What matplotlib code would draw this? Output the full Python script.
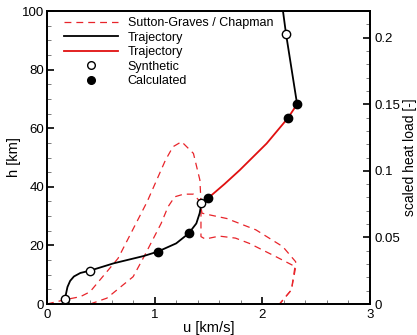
import numpy as np
import matplotlib
matplotlib.use('Agg')
import matplotlib.pyplot as plt
from matplotlib.lines import Line2D
from matplotlib.ticker import MultipleLocator, FuncFormatter

plt.rcParams['font.family'] = ['Liberation Sans', 'DejaVu Sans']
plt.rcParams['font.size'] = 9.5

# trajectory, black lower part
u_low = [0.151, 0.160, 0.167, 0.175, 0.190, 0.215, 0.25, 0.31, 0.40, 0.62, 0.90, 1.03, 1.20,
         1.316, 1.387, 1.418, 1.434, 1.495]
h_low = [0.2, 0.9, 1.6, 3.2, 5.8, 7.9, 9.4, 10.6, 11.4, 13.9, 16.4, 17.9, 20.7,
         24.1, 27.5, 31.0, 34.4, 36.1]
# trajectory, red middle part
u_mid = [1.495, 1.65, 1.79, 2.04, 2.236, 2.323]
h_mid = [36.1, 41.0, 45.7, 54.8, 63.4, 68.2]
# trajectory, black upper part
u_top = [2.323, 2.22, 2.19]
h_top = [68.2, 92.2, 100.5]

# points
u_syn = [0.167, 0.40, 1.434, 2.22]
h_syn = [1.6, 11.4, 34.4, 92.2]
u_calc = [1.029, 1.316, 1.495, 2.236, 2.323]
h_calc = [17.9, 24.1, 36.1, 63.4, 68.2]

# scaled heat load curves (Sutton-Graves / Chapman)
u_sg = [0, 0.17, 0.31, 0.40, 0.66, 0.93, 1.10, 1.17, 1.25, 1.36, 1.42, 1.43, 1.43, 1.47,
        1.60, 1.75, 1.88, 2.13, 2.31, 2.27, 2.16]
q_sg = [0, 0.0033, 0.0055, 0.0092, 0.0343, 0.0768, 0.1080, 0.1181, 0.1219, 0.1131, 0.0931,
        0.0768, 0.0506, 0.0488, 0.0510, 0.0495, 0.0455, 0.0354, 0.0279, 0.0106, 0]
u_ch = [0.40, 0.556, 0.80, 0.90, 1.06, 1.124, 1.186, 1.27, 1.36, 1.42, 1.44, 1.50, 1.67,
        1.94, 2.19, 2.31, 2.27, 2.16]
q_ch = [0, 0.0044, 0.0205, 0.0354, 0.0605, 0.0730, 0.0805, 0.0825, 0.0825, 0.0770, 0.0682,
        0.0671, 0.0642, 0.0557, 0.0431, 0.0317, 0.0106, 0]

fig = plt.figure(figsize=(4.17, 3.35), dpi=100)
ax = fig.add_axes([0.1127, 0.0925, 0.7746, 0.8745])
ax2 = ax.twinx()

dash = (0, (5.5, 4))
ax2.plot(u_sg, q_sg, color='#e8242a', lw=0.9, ls=dash)
ax2.plot(u_ch, q_ch, color='#e8242a', lw=0.9, ls=dash)

ax.plot(u_low, h_low, color='black', lw=1.3, zorder=3)
ax.plot(u_mid, h_mid, color='#e01010', lw=1.3, zorder=3)
ax.plot(u_top, h_top, color='black', lw=1.3, zorder=3)
ax.plot(u_syn, h_syn, 'o', mfc='white', mec='black', mew=1.0, ms=6, zorder=4)
ax.plot(u_calc, h_calc, 'o', mfc='black', mec='black', ms=6, zorder=4)
ax.set_zorder(ax2.get_zorder() + 1)
ax.patch.set_visible(False)

ax.set_xlim(0, 3)
ax.set_ylim(0, 100)
ax2.set_ylim(0, 0.22)

ax.xaxis.set_major_locator(MultipleLocator(1))
ax.xaxis.set_minor_locator(MultipleLocator(0.2))
ax.yaxis.set_major_locator(MultipleLocator(20))
ax.yaxis.set_minor_locator(MultipleLocator(5))
ax2.yaxis.set_major_locator(MultipleLocator(0.05))
ax2.yaxis.set_minor_locator(MultipleLocator(0.01))

for a in (ax, ax2):
    a.tick_params(which='major', direction='in', length=5, width=1.2)
    a.tick_params(which='minor', direction='in', length=3, width=0.6, color='#666666')
    for s in a.spines.values():
        s.set_linewidth(1.3)
ax.tick_params(top=False, right=False, which='both')
ax.tick_params(axis='y', pad=2)
ax2.tick_params(axis='y', pad=3)

ax2.yaxis.set_major_formatter(FuncFormatter(lambda v, p: '%g' % round(v, 3)))
ax.xaxis.set_major_formatter(FuncFormatter(lambda v, p: '%g' % v))

ax.set_xlabel('u [km/s]', fontsize=10.5, labelpad=0)
ax.set_ylabel('h [km]', fontsize=10.5, labelpad=1)
ax2.set_ylabel('scaled heat load [-]', fontsize=10, labelpad=2)

handles = [
    Line2D([], [], color='#e8242a', lw=0.9, ls=dash),
    Line2D([], [], color='black', lw=1.3),
    Line2D([], [], color='#e01010', lw=1.3),
    Line2D([], [], marker='o', ls='none', mfc='white', mec='black', ms=5.5),
    Line2D([], [], marker='o', ls='none', mfc='black', mec='black', ms=5.5),
]
labels = ['Sutton-Graves / Chapman', 'Trajectory', 'Trajectory', 'Synthetic', 'Calculated']
ax.legend(handles, labels, loc='upper left', bbox_to_anchor=(0.018, 1.018), frameon=False,
          handlelength=4.3, handletextpad=0.8, labelspacing=0.2, fontsize=9)

fig.savefig('out.png', dpi=100)
